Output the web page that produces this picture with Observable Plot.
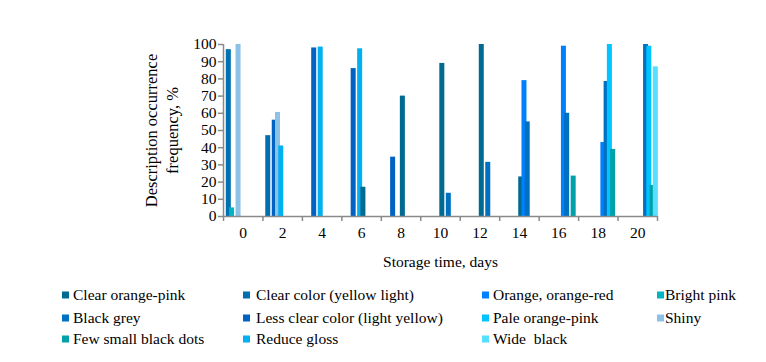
<!DOCTYPE html>
<html><head><meta charset="utf-8">
<script src="https://cdn.jsdelivr.net/npm/d3@7"></script>
<script src="https://cdn.jsdelivr.net/npm/@observablehq/plot@0.6"></script>
<style>
body{margin:0;background:#fff;}
:root{--serif:"Liberation Serif","Times New Roman",Times,"Nimbus Roman","Nimbus Roman No9 L",FreeSerif,"Noto Serif","DejaVu Serif",Tinos,serif;}
#wrap{position:relative;width:766px;height:362px;font-family:var(--serif);overflow:hidden;}
#chart{position:absolute;left:0;top:0;}
#chart svg, #chart svg text{font-family:var(--serif) !important;}
.item{position:absolute;font-family:var(--serif);font-size:15.5px;line-height:18px;white-space:pre;color:#000;transform:translateY(-50%);}
.sw{position:absolute;width:7px;height:7px;transform:translateY(-50%);}
</style></head><body><div id="wrap"><div id="chart"></div><div id="legend"></div></div>
<script>
// ---- data ----
const days = [0, 2, 4, 6, 8, 10, 12, 14, 16, 18, 20];
const yTicks = [0, 10, 20, 30, 40, 50, 60, 70, 80, 90, 100];
const xTitle = "Storage time, days";
const yTitle = "Description occurrence\nfrequency, %";

// legend order (row by row)
const legendSeries = [
  "Clear orange-pink", "Clear color (yellow light)", "Orange, orange-red", "Bright pink",
  "Black grey", "Less clear color (light yellow)", "Pale orange-pink", "Shiny",
  "Few small black dots", "Reduce gloss", "Wide  black"
];
const legendColors = [
  "#006a90", "#0070b0", "#0080ff", "#00b4c4",
  "#0070c0", "#0062c2", "#00c4ff", "#8dc2e8",
  "#00a0aa", "#00b0f0", "#55e0ff"
];
// plotting order inside each day group (Excel series order)
const plotOrder = [
  "Clear color (yellow light)", "Bright pink", "Less clear color (light yellow)", "Shiny",
  "Reduce gloss", "Clear orange-pink", "Orange, orange-red", "Black grey",
  "Pale orange-pink", "Few small black dots", "Wide  black"
];

// values per series, one per storage day (null = not reported)
const clearOrangePink   = [null, null, null, 17, 70, 89, 100, 23, null, null, null];
const clearColorYellow  = [97, 47, null, null, null, null, null, null, null, null, null];
const orangeRed         = [null, null, null, null, null, null, null, 79, 99, 43, null];
const brightPink        = [5, null, null, null, null, null, null, null, null, null, null];
const blackGrey         = [null, null, null, null, null, 13.5, 31.5, 55, 60, 78.5, 100];
const lessClearYellow   = [null, 56, 98, 86, 34.5, null, null, null, null, null, null];
const paleOrangePink    = [null, null, null, null, null, null, null, null, null, 100, 99];
const shiny             = [100, 60.5, null, null, null, null, null, null, null, null, null];
const fewBlackDots      = [null, null, null, null, null, null, null, null, 23.5, 39, 18];
const reduceGloss       = [null, 41, 98.5, 97.5, null, null, null, null, null, null, null];
const wideBlack         = [null, null, null, null, null, null, null, null, null, null, 87];

const valuesBySeries = {
  "Clear orange-pink": clearOrangePink,
  "Clear color (yellow light)": clearColorYellow,
  "Orange, orange-red": orangeRed,
  "Bright pink": brightPink,
  "Black grey": blackGrey,
  "Less clear color (light yellow)": lessClearYellow,
  "Pale orange-pink": paleOrangePink,
  "Shiny": shiny,
  "Few small black dots": fewBlackDots,
  "Reduce gloss": reduceGloss,
  "Wide  black": wideBlack
};

// ---- layout (Excel-like clustered columns with overlap) ----
const barStart = 0.071;   // offset of first slot inside a group (group units)
const slotStep = 0.0823;  // step between series slots
const barWidth = 0.127;   // bar width

const rows = [];
days.forEach((day, gi) => {
  plotOrder.forEach((s, si) => {
    const v = valuesBySeries[s][gi];
    if (v != null) rows.push({day, gi, series: s, slot: si, value: v});
  });
});

const FONT = "'Liberation Serif', 'Times New Roman', Times, 'Nimbus Roman', FreeSerif, 'Noto Serif', 'DejaVu Serif', serif";
const W = 766, H = 276;
const chart = Plot.plot({
  width: W, height: H,
  marginLeft: 223, marginRight: 109, marginTop: 44, marginBottom: H - 216,
  style: {fontFamily: FONT, fontSize: "15px", background: "transparent", color: "#000", overflow: "visible"},
  x: {domain: [0, days.length], axis: null},
  y: {domain: [0, 100], axis: null},
  color: {domain: legendSeries, range: legendColors},
  marks: [
    Plot.rectY(rows, {
      x1: d => d.gi + barStart + d.slot * slotStep,
      x2: d => d.gi + barStart + d.slot * slotStep + barWidth,
      y1: 0, y2: "value", fill: "series"
    }),
    Plot.ruleY([0], {x1: 0, x2: days.length, stroke: "#8a8a8a", strokeWidth: 1.5}),
    Plot.ruleX([0], {y1: 0, y2: 100, stroke: "#8a8a8a", strokeWidth: 1.5}),
    Plot.axisY({ticks: yTicks, label: null, tickSize: 5, tickPadding: 2, stroke: "#8a8a8a", strokeWidth: 1.5, fill: "#000", fontSize: 15.5}),
    Plot.axisX({ticks: d3.range(days.length + 1), label: null, tickSize: 5, tickFormat: () => "", stroke: "#8a8a8a", strokeWidth: 1.5}),
    Plot.axisX({ticks: days.map((d, i) => i + 0.5), label: null, tickSize: 0, tickPadding: 10, tickFormat: v => String(days[Math.floor(v)]), fill: "#000", fontSize: 15.5}),
    Plot.text([xTitle], {frameAnchor: "bottom", dy: 46, text: d => d, fontSize: 15.5, lineAnchor: "middle", textAnchor: "middle"}),
    Plot.text([yTitle], {frameAnchor: "left", dx: -63, rotate: -90, text: d => d, fontSize: 16.5, lineAnchor: "middle", textAnchor: "middle", lineHeight: 1.3})
  ]
});
document.getElementById("chart").appendChild(chart);

// ---- legend ----
const legend = document.getElementById("legend");
const colSw = [62, 243, 482, 657];
const colTx = [73, 256, 493, 665];
const rowY = [295, 318, 339];
legendSeries.forEach((s, i) => {
  const r = Math.floor(i / 4), c = i % 4;
  const sw = document.createElement("div");
  sw.className = "sw";
  sw.style.left = colSw[c] + "px"; sw.style.top = rowY[r] + "px";
  sw.style.background = legendColors[i];
  const t = document.createElement("div");
  t.className = "item";
  t.style.left = colTx[c] + "px"; t.style.top = rowY[r] + "px";
  t.textContent = s;
  legend.appendChild(sw); legend.appendChild(t);
});
</script></body></html>
